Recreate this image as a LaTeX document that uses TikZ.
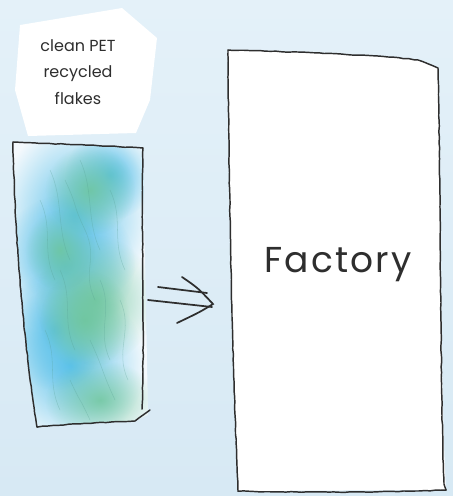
\documentclass[tikz,border=0pt]{standalone}
\usepackage{fontspec}
\setmainfont{Poppins}
\usetikzlibrary{fadings,decorations.pathmorphing}
\definecolor{bgtop}{HTML}{E4F1F9}
\definecolor{bgbot}{HTML}{D7E9F4}
\definecolor{ink}{HTML}{2E2E2E}
\definecolor{flakeblue}{HTML}{5CC2EA}
\definecolor{flakegreen}{HTML}{6FC69C}
\tikzfading[name=softfade, inner color=transparent!0, outer color=transparent!100]
\tikzset{
  pencil/.style={draw=ink, line width=1.1pt, line cap=round, line join=round,
    decorate, decoration={random steps, segment length=4pt, amplitude=0.25pt}},
  arrowstroke/.style={draw=ink, line width=1.3pt, line cap=round},
  blob/.style={path fading=softfade},
  lbl/.style={font=\fontsize{12}{20}\selectfont, align=center, text=ink},
  big/.style={font=\fontsize{27}{30}\selectfont\addfontfeature{LetterSpace=6}, text=ink}
}
\begin{document}
\begin{tikzpicture}[x={(0.75pt,0)}, y={(0,-0.75pt)}]
\useasboundingbox (0,0) rectangle (453,496);
\shade[top color=bgtop, bottom color=bgbot] (0,0) rectangle (453,496);

% label blob
\fill[white] (20,25) -- (122,8) -- (157,38) -- (150,100) -- (136,133) -- (28,136) -- (15,90) -- cycle;
\node[lbl] (label) at (78,72) {clean PET\\recycled\\flakes};

% flakes bin
\begin{scope}
\clip (13,142) .. controls (60,144) and (110,146) .. (143,148) -- (148,415)
  -- (135,421) .. controls (100,422) and (60,425) .. (37,427)
  .. controls (25,350) and (15,250) .. (13,142) -- cycle;
\fill[white!60!bgtop] (0,130) rectangle (160,440);
\foreach \x/\y/\rx/\ry in {75/215/75/95, 65/265/70/70, 70/365/75/80, 55/330/50/60, 110/175/45/45}{
  \fill[flakeblue, blob] (\x,\y) ellipse [x radius=\rx, y radius=\ry];
}
\foreach \x/\y/\rx/\ry in {90/190/45/45, 95/300/60/65, 85/320/45/50, 100/400/55/40, 60/250/35/40}{
  \fill[flakegreen, blob, opacity=0.85] (\x,\y) ellipse [x radius=\rx, y radius=\ry];
}
\foreach \a/\b/\c/\d in {50/170/70/260, 80/160/100/250, 60/270/75/350, 100/280/110/360, 45/330/60/410, 90/340/115/400, 110/190/125/270, 40/200/55/280, 120/300/128/380, 70/380/90/420, 65/180/85/230, 85/230/95/300}{
  \draw[flakegreen!70!flakeblue!80!black, opacity=0.3, line width=0.4pt] (\a,\b) .. controls (\a+14,\b+30) and (\c-14,\d-30) .. (\c,\d);
}
\end{scope}
\coordinate (fTL) at (13,142);
\coordinate (fTR) at (143,148);
\coordinate (fBR) at (142,409);
\coordinate (fBL) at (37,427);
\draw[pencil] (fTL) .. controls (60,144) and (110,146) .. (fTR)
  .. controls (141,250) and (145,330) .. (fBR);
\draw[pencil] (fTL) .. controls (15,250) and (25,350) .. (fBL)
  .. controls (70,424) and (110,422) .. (135,421) -- (150,410);

% factory
\coordinate (gTL) at (228,50);
\coordinate (gTR) at (438,68);
\coordinate (gBR) at (446,490);
\coordinate (gBL) at (238,491);
\fill[white] (gTL) .. controls (300,52) and (380,55) .. (418,60) -- (gTR)
  .. controls (441,200) and (440,380) .. (gBR) -- (gBL)
  .. controls (232,350) and (229,200) .. (gTL) -- cycle;
\draw[pencil] (gTL) .. controls (300,52) and (380,55) .. (418,60) -- (gTR)
  .. controls (441,200) and (440,380) .. (444,484) -- (gBR);
\draw[pencil] (gTL) .. controls (229,200) and (232,350) .. (gBL)
  .. controls (300,493) and (400,492) .. (gBR);
\node[big] (factory) at (338,265) {Factory};

% double arrow
\coordinate (a1s) at (158,287);
\coordinate (a1e) at (207,293);
\coordinate (a2s) at (148,300);
\coordinate (a2e) at (212,307);
\coordinate (hU) at (182,277);
\coordinate (hT) at (213,304);
\coordinate (hL) at (177,323);
\draw[arrowstroke] (a1s) -- (a1e);
\draw[arrowstroke] (a2s) -- (a2e);
\draw[arrowstroke] (hU) .. controls (198,288) .. (hT) .. controls (200,312) .. (hL);
\end{tikzpicture}
\end{document}
